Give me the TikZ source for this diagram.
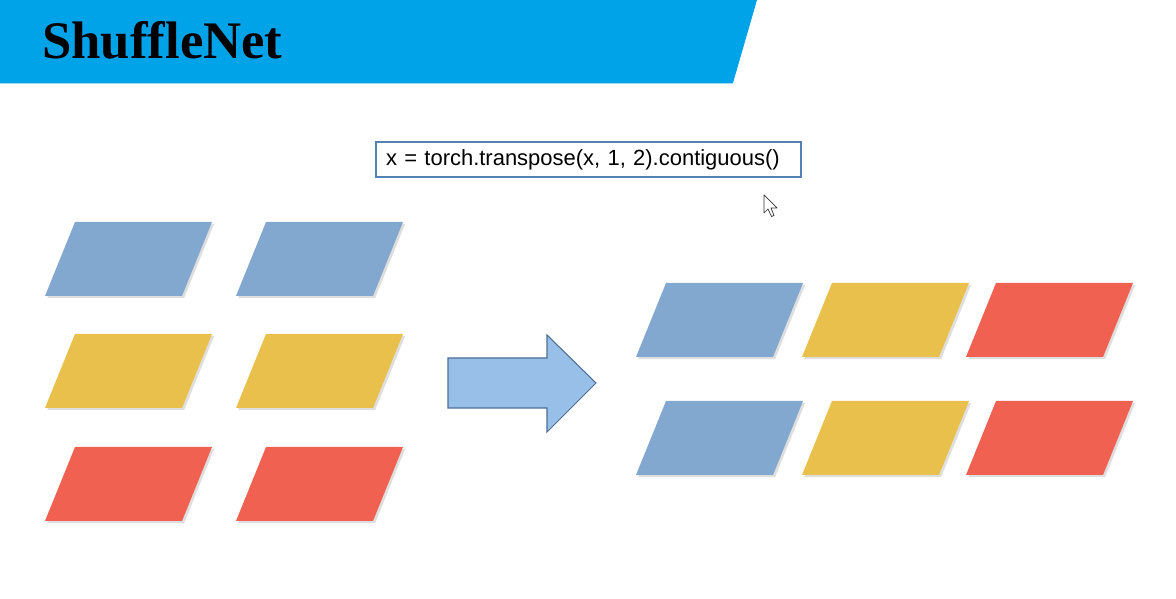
\documentclass[tikz,border=0pt]{standalone}
\usepackage{fontspec}
\setmainfont{Liberation Serif}
\setsansfont{Liberation Sans}
\usepackage{tikz}
\usetikzlibrary{positioning}

\definecolor{bannerblue}{RGB}{0,162,232}
\definecolor{chanblue}{RGB}{130,168,207}
\definecolor{chanyellow}{RGB}{234,192,76}
\definecolor{chanred}{RGB}{241,97,81}
\definecolor{arrowfill}{RGB}{151,191,231}
\definecolor{arrowedge}{RGB}{78,110,150}
\definecolor{codeedge}{RGB}{84,130,180}

\tikzset{
  chan/.style={preaction={fill=black,opacity=0.13,
               transform canvas={xshift=1.2pt,yshift=-1.2pt}}},
}

\begin{document}
\begin{tikzpicture}
          \useasboundingbox[fill=white](0,0)rectangle(23.52,11.98);
          % title banner
          \fill[bannerblue](0,11.98)--(15.14,11.98)--(14.66,10.32)--(0,10.32)--cycle;
          \draw[bannerblue!40,line width=0.6pt](0,10.31)--(14.66,10.31);
          \node[font=\fontsize{30}{32}\selectfont\bfseries,anchor=base west,
                inner sep=0pt](title)at(0.84,10.80){ShuffleNet};
          % code line
          \node[draw=codeedge,line width=0.7pt,minimum width=8.5cm,minimum height=0.7cm,
                text width=8.1cm,align=left,inner sep=0pt,
                font=\sffamily\fontsize{12.5}{14}\selectfont](code)at(11.77,8.79)
                {x = torch.transpose(x, 1, 2).contiguous()};
          % channels before
          \fill[chanblue,chan]  (0.90,6.06)--++(2.74,0)--++(0.60,1.48)--++(-2.74,0)--cycle;
          \fill[chanblue,chan]  (4.72,6.06)--++(2.74,0)--++(0.60,1.48)--++(-2.74,0)--cycle;
          \fill[chanyellow,chan](0.90,3.82)--++(2.74,0)--++(0.60,1.48)--++(-2.74,0)--cycle;
          \fill[chanyellow,chan](4.72,3.82)--++(2.74,0)--++(0.60,1.48)--++(-2.74,0)--cycle;
          \fill[chanred,chan]   (0.90,1.56)--++(2.74,0)--++(0.60,1.48)--++(-2.74,0)--cycle;
          \fill[chanred,chan]   (4.72,1.56)--++(2.74,0)--++(0.60,1.48)--++(-2.74,0)--cycle;
          % arrow
          \filldraw[fill=arrowfill,draw=arrowedge,line width=0.6pt]
                (8.96,3.82)--(10.94,3.82)--(10.94,3.34)--(11.92,4.32)
                --(10.94,5.28)--(10.94,4.82)--(8.96,4.82)--cycle;
          % channels after
          \fill[chanblue,chan]  (12.72,4.84)--++(2.74,0)--++(0.60,1.48)--++(-2.74,0)--cycle;
          \fill[chanyellow,chan](16.04,4.84)--++(2.74,0)--++(0.60,1.48)--++(-2.74,0)--cycle;
          \fill[chanred,chan]   (19.32,4.84)--++(2.74,0)--++(0.60,1.48)--++(-2.74,0)--cycle;
          \fill[chanblue,chan]  (12.72,2.48)--++(2.74,0)--++(0.60,1.48)--++(-2.74,0)--cycle;
          \fill[chanyellow,chan](16.04,2.48)--++(2.74,0)--++(0.60,1.48)--++(-2.74,0)--cycle;
          \fill[chanred,chan]   (19.32,2.48)--++(2.74,0)--++(0.60,1.48)--++(-2.74,0)--cycle;
          % mouse pointer
          \filldraw[fill=white,draw=black!80,line width=0.4pt,line join=round]
                (15.28,8.08)--++(0,-0.36)--++(0.08,0.08)--++(0.07,-0.15)
                --++(0.05,0.02)--++(-0.06,0.15)--++(0.12,0)--cycle;
        \end{tikzpicture}
\end{document}
